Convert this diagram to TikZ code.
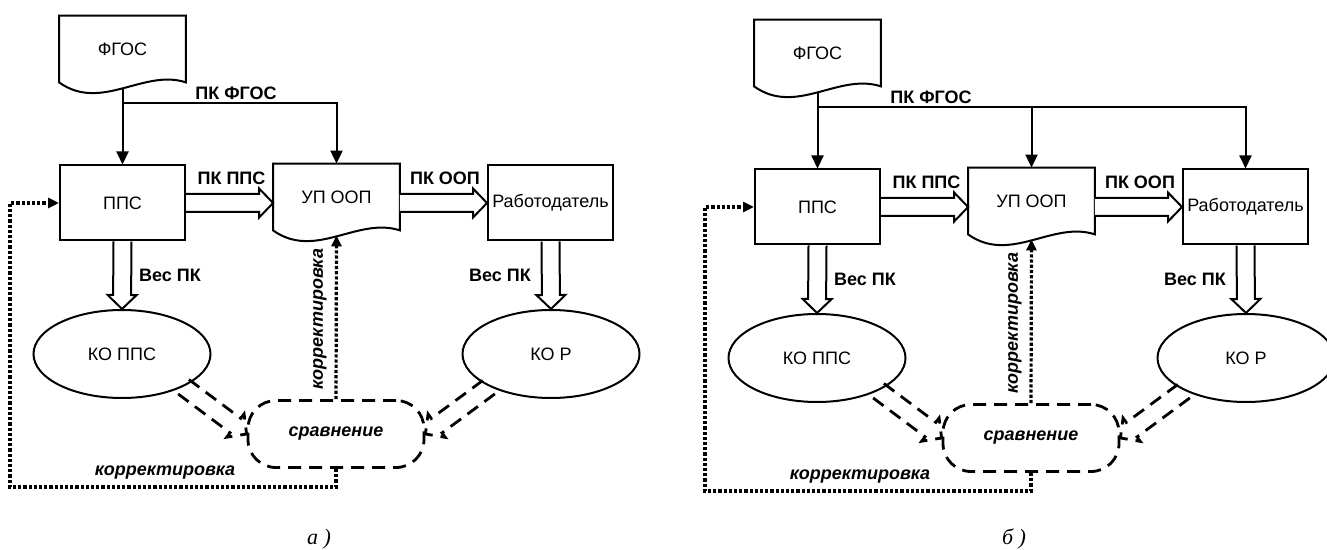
\documentclass[tikz,border=0pt]{standalone}
\usepackage{fontspec}
\setmainfont{Liberation Sans}
\newfontfamily\capfont{Liberation Serif}
\usetikzlibrary{arrows.meta,calc,shapes.geometric}
\tikzset{
  box/.style={draw, line width=1pt, minimum width=62.5pt, minimum height=37.5pt, inner sep=1pt},
  docnode/.style={minimum width=63pt, minimum height=33pt, inner sep=0pt},
  oval/.style={draw, ellipse, line width=1pt, minimum width=88.5pt, minimum height=44pt, inner sep=0pt},
  cmpbox/.style={draw, rounded corners=14pt, line width=1.4pt, dash pattern=on 6.5pt off 4pt,
    minimum width=88pt, minimum height=33.5pt, font=\fontsize{9}{10.5}\selectfont\bfseries\itshape},
  lbl/.style={font=\fontsize{9}{10.5}\selectfont\bfseries},
  lblit/.style={font=\fontsize{9}{10.5}\selectfont\bfseries\itshape},
  flow/.style={line width=1pt, -{Triangle[length=6.5pt,width=6pt]}},
  fix/.style={line width=1.6pt, dash pattern=on 1.6pt off 1pt, -{Triangle[length=5.5pt,width=5pt]}},
  dashline/.style={line width=1.4pt, dash pattern=on 6.5pt off 4pt},
  fat/.style={line width=1pt, to path={
    ($(\tikztostart)!4.5pt!90:(\tikztotarget)$)
    -- ($(\tikztotarget)!8.32pt!-32.74:(\tikztostart)$)
    -- ($(\tikztotarget)!10.08pt!-46:(\tikztostart)$)
    -- (\tikztotarget)
    -- ($(\tikztotarget)!10.08pt!46:(\tikztostart)$)
    -- ($(\tikztotarget)!8.32pt!32.74:(\tikztostart)$)
    -- ($(\tikztostart)!4.5pt!-90:(\tikztotarget)$)}},
}
\begin{document}
\begin{tikzpicture}[x=0.5pt, y=-0.5pt, font=\fontsize{9}{10.5}\selectfont]
\useasboundingbox (0,0) rectangle (1327,550);
\foreach \p/\dx/\dy/\plab in {a/0/0/а, b/695/4/б}{
  \begin{scope}[shift={(\dx,\dy)}]
    % blocks
    \node[docnode] (\p-fgos) at (122.5,49) {ФГОС};
    \node[box] (\p-pps) at (122.5,203) {ППС};
    \node[docnode] (\p-uop) at (336.5,197) {УП ООП};
    \node[box] (\p-wrk) at (550.5,203) {Работодатель};
    \node[oval] (\p-kopps) at (122,354) {КО ППС};
    \node[oval] (\p-kor) at (551,354) {КО Р};
    \node[cmpbox] (\p-cmp) at (336,434) {сравнение};
    \coordinate (\p-split) at (122.5,103);
    \coordinate (\p-loop) at (10,487);
    % document outlines
    \foreach \doc in {fgos,uop}
      \draw[line width=1pt] (\p-\doc.south west) -- (\p-\doc.north west) -- (\p-\doc.north east)
        -- (\p-\doc.south east) .. controls +(-42,-14) and +(42,30) .. (\p-\doc.south west) -- cycle;
    % links
    \draw[flow] ([yshift=-3pt]\p-fgos.south) -- (\p-pps.north);
    \draw[flow] (\p-split) -| (\p-uop.north);
    \draw[fat, fill=white] (\p-pps.east) to (\p-pps.east -| \p-uop.west);
    \draw[fat, fill=white] (\p-wrk.west -| \p-uop.east) to (\p-wrk.west);
    \draw[fat, fill=white] (\p-pps.south) to (\p-kopps.north);
    \draw[fat, fill=white] (\p-wrk.south) to (\p-kor.north);
    \draw[fat, dashline] (\p-kopps.-28) to (\p-cmp.west);
    \draw[fat, dashline] (\p-kor.-152) to (\p-cmp.east);
    \draw[fix] (\p-cmp.north) -- ([yshift=-2.5pt]\p-uop.south);
    \draw[fix] (\p-cmp.south) |- (\p-loop) |- (\p-pps.west);
    % labels
    \node[lbl] (\p-tfgos) at (236,93) {ПК ФГОС};
    \node[lbl] (\p-tpps) at (231.5,178) {ПК ППС};
    \node[lbl] (\p-toop) at (445,178) {ПК ООП};
    \node[lbl] (\p-tw1) at (170,275) {Вес ПК};
    \node[lbl] (\p-tw2) at (500,275) {Вес ПК};
    \node[lblit, rotate=90] (\p-tfix1) at (320,319) {корректировка};
    \node[lblit] (\p-tfix2) at (165,473) {корректировка};
    \node[font=\fontsize{11}{13}\selectfont\capfont\itshape] (\p-cap) at (319,{539-\dy}) {\plab\ )};
  \end{scope}
}
\draw[flow] (b-split) -| (b-wrk.north);
\end{tikzpicture}
\end{document}
